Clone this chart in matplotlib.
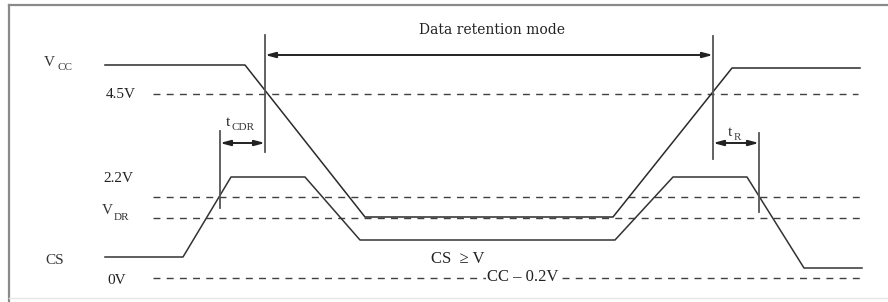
"""
Data retention timing diagram (VCC / CS waveforms).
"""

import matplotlib
matplotlib.use("Agg")
import matplotlib.pyplot as plt

plt.rcParams["font.family"] = ["Liberation Serif", "DejaVu Serif"]
plt.rcParams["lines.scale_dashes"] = False

# waveforms: (time, level) in diagram units (y grows downward)
vcc_t = [105, 245, 365, 613, 732, 860]
vcc_y = [65, 65, 217, 217, 68, 68]
cs_t = [105, 183, 231, 305, 360, 615, 673, 747, 804, 862]
cs_y = [257, 257, 177, 177, 240, 240, 177, 177, 268, 268]

# reference levels (dashed)
level_names = ["4.5V", "2.2V", "V_DR", "0V"]
level_y = [94, 197, 218, 278]
level_end = [858, 862, 862, 862]
level_start = 153

# timing markers: x, top, bottom
marker_x = [265, 713, 220, 759]
marker_top = [35, 36, 131, 133]
marker_bot = [152, 159, 208, 212]

# dimension arrows: (x0, x1, y)
arrows = [(265, 713, 55), (220, 265, 143), (713, 759, 143)]

fig = plt.figure(figsize=(8.88, 3.02), dpi=100)
ax = fig.add_axes([0, 0, 1, 1])
ax.set_xlim(0, 888)
ax.set_ylim(302, 0)
ax.axis("off")

# frame
ax.plot([9, 888], [5, 5], color="#8a8a8a", lw=1.6)
ax.plot([9, 9], [5, 302], color="#8a8a8a", lw=1.6)
ax.plot([9, 888], [298, 298], color="#e6e6e6", lw=1.0)

for y, x1 in zip(level_y, level_end):
    ax.plot([level_start, x1], [y, y], color="#404040", lw=1.0, dashes=(5, 4.5))

ax.plot(vcc_t, vcc_y, color="#2a2a2a", lw=1.1)
ax.plot(cs_t, cs_y, color="#333333", lw=1.1)

for x, y0, y1 in zip(marker_x, marker_top, marker_bot):
    ax.plot([x, x], [y0, y1], color="#555555", lw=1.3)

for x0, x1, y in arrows:
    ax.annotate("", xy=(x0, y), xytext=(x1, y),
                arrowprops=dict(arrowstyle="<|-|>,head_length=0.6,head_width=0.16",
                                color="#222222", lw=1.4, shrinkA=0, shrinkB=0))

# labels
fs = 11
sub = 8
ax.text(492, 30, "Data retention mode", fontsize=10, family="DejaVu Serif",
        ha="center", va="center", color="#222222")
ax.text(44, 62, "V", fontsize=fs, va="center", color="#333333")
ax.text(57, 68, "CC", fontsize=sub, va="center", color="#333333")
ax.text(106, 95, "4.5V", fontsize=fs, va="center", color="#222222")
ax.text(226, 122, "t", fontsize=fs, va="center", color="#222222")
ax.text(231, 128, "CDR", fontsize=sub, va="center", color="#333333")
ax.text(103, 179, "2.2V", fontsize=fs, va="center", color="#222222")
ax.text(102, 210, "V", fontsize=fs, va="center", color="#333333")
ax.text(114, 217, "DR", fontsize=sub, va="center", color="#333333")
ax.text(45, 260, "CS", fontsize=fs, va="center", color="#333333")
ax.text(107, 281, "0V", fontsize=fs, va="center", color="#222222")
ax.text(431, 259, "CS  \u2265 V", fontsize=fs + 1, va="center", color="#222222")
ax.text(487, 277, "CC \u2013 0.2V", fontsize=fs + 1, va="center", color="#222222",
        bbox=dict(facecolor="white", edgecolor="none", pad=0.5))
ax.text(728, 132, "t", fontsize=fs, va="center", color="#333333")
ax.text(734, 137, "R", fontsize=sub, va="center", color="#444444")

fig.savefig("out.png", dpi=100)
